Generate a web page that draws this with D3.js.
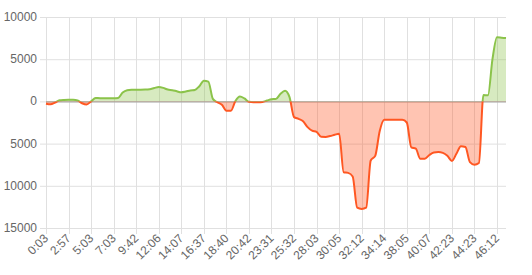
<!DOCTYPE html>
<html>
<head>
<meta charset="utf-8">
<script src="https://cdn.jsdelivr.net/npm/d3@7"></script>
<style>
  html, body { margin: 0; padding: 0; background: #fff; }
  svg { display: block; font-family: "Liberation Sans", Arial, sans-serif; }
</style>
</head>
<body>
<svg id="chart" width="532" height="275"></svg>
<script>
// tick labels shown on the x axis, one every 5 points
const tickLabels = ["0:03", "2:57", "5:03", "7:03", "9:42", "12:06", "14:07", "16:37", "18:40", "20:42",
  "23:31", "25:32", "28:03", "30:05", "32:12", "34:14", "38:05", "40:07", "42:23", "44:23", "46:12"];
const tickEvery = 5;

// balance values
const values = [
  -270, -350, -150, 130, 180, 200, 190, 120, -220, -370,
  0, 400, 380, 380, 380, 380, 400, 1050, 1330, 1380,
  1390, 1390, 1400, 1450, 1580, 1700, 1600, 1400, 1330, 1200,
  1080, 1170, 1300, 1350, 1800, 2450, 2350, 300, -100, -400,
  -1100, -1100, 50, 590, 350, -50, -100, -100, -60, 100,
  250, 300, 900, 1250, 500, -1860, -2070, -2350, -3050, -3470,
  -3600, -4200, -4210, -4110, -3960, -3830, -8400, -8470, -8900, -12600,
  -12750, -12600, -7000, -6450, -3500, -2170, -2170, -2170, -2170, -2170,
  -2500, -5450, -5600, -6800, -6800, -6350, -6050, -6000, -6100, -6450,
  -7050, -6200, -5300, -5400, -7200, -7500, -7300, 750, 720, 5000,
  7600, 7550, 7500
];

const yTicks = [10000, 5000, 0, -5000, -10000, -15000];

const plotLeft = 46, plotRight = 506, plotTop = 17, plotBottom = 228;
const svg = d3.select("#chart");

const x = d3.scaleLinear().domain([0, values.length - 1]).range([plotLeft, plotRight]);
const y = d3.scaleLinear().domain([-15000, 10000]).range([plotBottom, plotTop]);

// grid
const grid = svg.append("g");
grid.selectAll("line.h").data(yTicks).enter().append("line")
  .attr("x1", plotLeft - 6).attr("x2", plotRight)
  .attr("y1", d => y(d) + 0.5).attr("y2", d => y(d) + 0.5)
  .attr("stroke", "#e0e0e0").attr("stroke-width", 1);
grid.selectAll("line.v").data(tickLabels).enter().append("line")
  .attr("x1", (d, i) => Math.round(x(i * tickEvery)) + 0.5)
  .attr("x2", (d, i) => Math.round(x(i * tickEvery)) + 0.5)
  .attr("y1", plotTop).attr("y2", plotBottom + 6)
  .attr("stroke", "#e0e0e0").attr("stroke-width", 1);

// y labels (absolute values)
svg.append("g").selectAll("text").data(yTicks).enter().append("text")
  .attr("x", plotLeft - 9).attr("y", d => y(d) + 4)
  .attr("text-anchor", "end")
  .attr("font-size", 12).attr("fill", "#666")
  .text(d => Math.abs(d));

// x labels
svg.append("g").selectAll("text").data(tickLabels).enter().append("text")
  .attr("transform", (d, i) => `translate(${x(i * tickEvery) + 3},${plotBottom + 11}) rotate(-45)`)
  .attr("text-anchor", "end")
  .attr("font-size", 12).attr("fill", "#666")
  .text(d => d);

// zero line
svg.append("line")
  .attr("x1", plotLeft).attr("x2", plotRight)
  .attr("y1", y(0) + 0.5).attr("y2", y(0) + 0.5)
  .attr("stroke", "#999").attr("stroke-width", 1);

const defs = svg.append("defs");
defs.append("clipPath").attr("id", "above").append("rect")
  .attr("x", 0).attr("y", 0).attr("width", 532).attr("height", y(0));
defs.append("clipPath").attr("id", "below").append("rect")
  .attr("x", 0).attr("y", y(0)).attr("width", 532).attr("height", 275 - y(0));

const area = d3.area()
  .x((d, i) => x(i)).y0(y(0)).y1(d => y(d))
  .curve(d3.curveMonotoneX);
const line = d3.line()
  .x((d, i) => x(i)).y(d => y(d))
  .curve(d3.curveMonotoneX);

const parts = [
  { clip: "above", stroke: "#8bc34a", fill: "rgba(139,195,74,0.35)" },
  { clip: "below", stroke: "#ff5722", fill: "rgba(255,87,34,0.35)" }
];

parts.forEach(p => {
  const g = svg.append("g").attr("clip-path", `url(#${p.clip})`);
  g.append("path").datum(values).attr("d", area).attr("fill", p.fill);
  g.append("path").datum(values).attr("d", line)
    .attr("fill", "none").attr("stroke", p.stroke).attr("stroke-width", 2);
});
</script>
</body>
</html>
